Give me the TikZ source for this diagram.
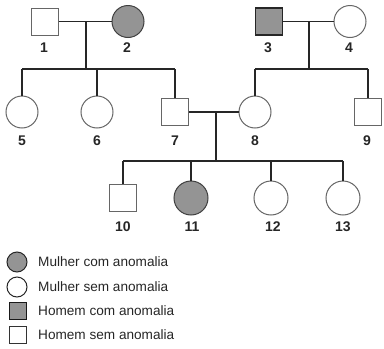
\documentclass[tikz,border=0pt]{standalone}
\usepackage{fontspec}
\setmainfont{Liberation Sans}
\begin{document}
\begin{tikzpicture}[x=1pt,y=-1pt,
 line/.style={line width=1.8pt, black!85},
 male/.style={draw=black!60, line width=1pt, fill=white, rectangle, minimum size=27pt, inner sep=0pt},
 female/.style={draw=black!60, line width=1pt, fill=white, circle, minimum size=32pt, inner sep=0pt},
 aff/.style={fill=black!42, draw=black!75},
 lab/.style={font=\bfseries\fontsize{14}{14}\selectfont, text=black!85},
 leg/.style={font=\fontsize{13.6}{14}\selectfont, anchor=west, text=black!85, inner sep=0pt}]
\useasboundingbox (0,0) rectangle (384,349);
% generation 1
\node[male] (p1) at (44.5,21.5) {};
\node[female,aff] (p2) at (128,21.5) {};
\node[male,aff,draw=black!85,line width=1.2pt] (p3) at (269,21.5) {};
\node[female] (p4) at (350,21.5) {};
% generation 2
\node[female] (p5) at (22,112) {};
\node[female] (p6) at (97,112) {};
\node[male] (p7) at (175,112) {};
\node[female] (p8) at (255,112) {};
\node[male] (p9) at (368,112) {};
% generation 3
\node[male] (p10) at (123,198) {};
\node[female,aff,minimum size=34pt] (p11) at (191,198) {};
\node[female,minimum size=34pt] (p12) at (271,198) {};
\node[female,minimum size=34pt] (p13) at (343,198) {};
% couples and sibships
\draw[line,line width=1.2pt] (p1.east) -- (p2.west);
\coordinate (m12) at (86,21.5);
\coordinate (s12) at (86,69);
\draw[line] (m12) -- (s12);
\draw[line] (p5 |- s12) -- (p7 |- s12);
\draw[line] (p5 |- s12) -- (p5.north);
\draw[line] (p6 |- s12) -- (p6.north);
\draw[line] (p7 |- s12) -- (p7.north);

\draw[line] (p3.east) -- (p4.west);
\coordinate (m34) at (309,21.5);
\coordinate (s34) at (309,69);
\draw[line] (m34) -- (s34);
\draw[line] (p8 |- s34) -- (p9 |- s34);
\draw[line] (p8 |- s34) -- (p8.north);
\draw[line] (p9 |- s34) -- (p9.north);

\draw[line] (p7.east) -- (p8.west);
\coordinate (m78) at (216,112);
\coordinate (s78) at (216,161);
\draw[line] (m78) -- (s78);
\draw[line] (p10 |- s78) -- (p13 |- s78);
\draw[line] (p10 |- s78) -- (p10.north);
\draw[line] (p11 |- s78) -- (p11.north);
\draw[line] (p12 |- s78) -- (p12.north);
\draw[line] (p13 |- s78) -- (p13.north);
% labels
\node[lab] (l1) at (44,48) {1};
\node[lab] (l2) at (127,48) {2};
\node[lab] (l3) at (268,48) {3};
\node[lab] (l4) at (349,48) {4};
\node[lab] (l5) at (22,141) {5};
\node[lab] (l6) at (97,141) {6};
\node[lab] (l7) at (175,141) {7};
\node[lab] (l8) at (255,141) {8};
\node[lab] (l9) at (367,141) {9};
\node[lab] (l10) at (123,227) {10};
\node[lab] (l11) at (192,227) {11};
\node[lab] (l12) at (273,227) {12};
\node[lab] (l13) at (343,227) {13};
% legend
\node[female,aff,draw=black!85,minimum size=20pt] (k1) at (17,262) {};
\node[female,draw=black!85,minimum size=20pt] (k2) at (17,287) {};
\node[male,aff,draw=black!90,line width=1.5pt,minimum size=17pt] (k3) at (18,311) {};
\node[male,draw=black!80,minimum size=17pt] (k4) at (18,335) {};
\node[leg] (t1) at (38,262) {Mulher com anomalia};
\node[leg] (t2) at (38,287) {Mulher sem anomalia};
\node[leg] (t3) at (38,311) {Homem com anomalia};
\node[leg] (t4) at (38,335) {Homem sem anomalia};
\end{tikzpicture}
\end{document}
